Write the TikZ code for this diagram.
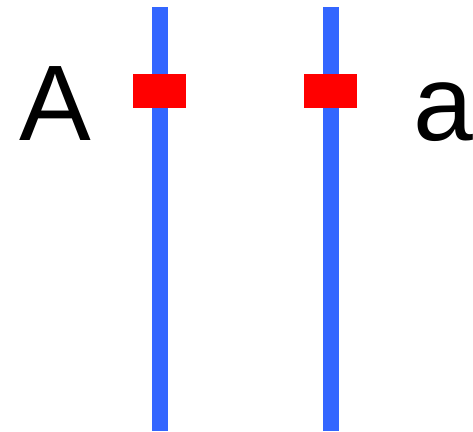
\documentclass[tikz,border=0pt]{standalone}
\usepackage{fontspec}
\setmainfont{Liberation Sans}
\definecolor{chromblue}{HTML}{3366FF}
\definecolor{markred}{HTML}{FF0000}
\begin{document}
\begin{tikzpicture}[x=1pt,y=1pt,
  chrom/.style={draw=chromblue,line width=16pt},
  marker/.style={fill=markred,draw=none,minimum width=53pt,minimum height=34pt,inner sep=0pt},
  lab/.style={inner sep=0pt,anchor=base west,font=\fontsize{107.5}{110}\selectfont}]
\useasboundingbox (0,0) rectangle (473,431);
\coordinate (t1) at (159.5,423.5);
\coordinate (b1) at (159.5,0);
\coordinate (t2) at (330.5,423.5);
\coordinate (b2) at (330.5,0);
\draw[chrom] (t1) -- (b1);
\draw[chrom] (t2) -- (b2);
\node[marker] (m1) at (159.5,340) {};
\node[marker] (m2) at (330.5,340) {};
\node[lab] (A) at (19,290.5) {A};
\node[lab] (a) at (413,290.5) {a};
\end{tikzpicture}
\end{document}
